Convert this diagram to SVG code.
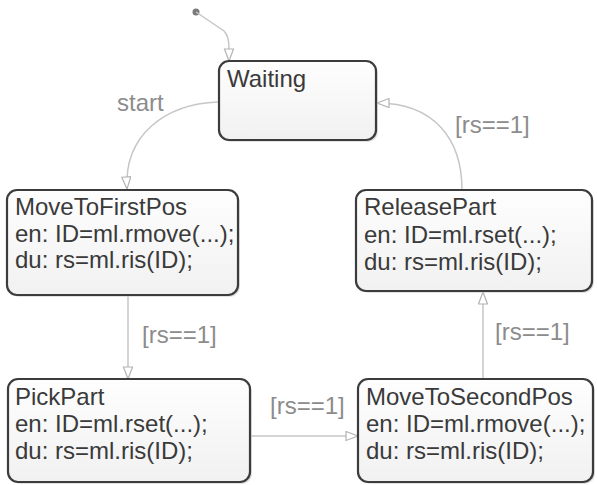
<svg xmlns="http://www.w3.org/2000/svg" width="597" height="485" viewBox="0 0 597 485">
<defs>
<linearGradient id="g" x1="0" y1="0" x2="0" y2="1">
<stop offset="0" stop-color="#fefefe"/>
<stop offset="1" stop-color="#f1f1f1"/>
</linearGradient>
<marker id="arr" markerUnits="userSpaceOnUse" markerWidth="16" markerHeight="12" refX="13" refY="5" orient="auto" viewBox="0 0 16 12">
<path d="M1,0.5 L13,5 L1,9.5 Z" fill="#ffffff" stroke="#b4b4b4" stroke-width="1.2"/>
</marker>
</defs>
<style>
.box{fill:url(#g);stroke:#3c3c3c;stroke-width:2.2}
.sh{fill:#cfcfcf;opacity:0.6}
.t{font-family:"Liberation Sans",Arial,sans-serif;font-size:24px;fill:#3a3a3a}
.lbl{font-family:"Liberation Sans",Arial,sans-serif;font-size:24px;fill:#8c8c8c}
.c{fill:none;stroke:#c6c6c6;stroke-width:1.5}
</style>
<rect width="597" height="485" fill="#ffffff"/>
<g id="connectors">
<circle cx="196" cy="12" r="3.5" fill="#7a7a7a"/>
<path class="c" d="M196,12 L224,31 C228,35 229,40 229,48 L229,61" marker-end="url(#arr)"/>
<path class="c" d="M218,102 C165,104 124,135 127,189" marker-end="url(#arr)"/>
<path class="c" d="M462,190 C462,140 435,103 377,103" marker-end="url(#arr)"/>
<path class="c" d="M128,296 L128,379" marker-end="url(#arr)"/>
<path class="c" d="M251,436 L358,436" marker-end="url(#arr)"/>
<path class="c" d="M483,379 L483,292" marker-end="url(#arr)"/>
<text class="lbl" x="117" y="111">start</text>
<text class="lbl" x="455" y="133">[rs==1]</text>
<text class="lbl" x="142" y="343">[rs==1]</text>
<text class="lbl" x="270" y="414">[rs==1]</text>
<text class="lbl" x="495" y="340">[rs==1]</text>
</g>
<g id="Waiting">
<rect class="sh" x="221" y="63" width="157" height="79" rx="10"/>
<rect class="box" x="219" y="61" width="157" height="79" rx="10"/>
<text class="t" x="227" y="87">Waiting</text>
</g>
<g id="MoveToFirstPos">
<rect class="sh" x="9" y="192" width="231" height="105" rx="10"/>
<rect class="box" x="7" y="190" width="231" height="105" rx="10"/>
<text class="t" x="15" y="215">MoveToFirstPos</text>
<text class="t" x="15" y="242">en: ID=ml.rmove(...);</text>
<text class="t" x="15" y="268">du: rs=ml.ris(ID);</text>
</g>
<g id="ReleasePart">
<rect class="sh" x="358" y="192" width="236" height="101" rx="10"/>
<rect class="box" x="356" y="190" width="236" height="101" rx="10"/>
<text class="t" x="364" y="215">ReleasePart</text>
<text class="t" x="364" y="243">en: ID=ml.rset(...);</text>
<text class="t" x="364" y="270">du: rs=ml.ris(ID);</text>
</g>
<g id="PickPart">
<rect class="sh" x="10" y="381" width="242" height="103" rx="10"/>
<rect class="box" x="8" y="379" width="242" height="103" rx="10"/>
<text class="t" x="15" y="405">PickPart</text>
<text class="t" x="15" y="432">en: ID=ml.rset(...);</text>
<text class="t" x="15" y="459">du: rs=ml.ris(ID);</text>
</g>
<g id="MoveToSecondPos">
<rect class="sh" x="360" y="381" width="235" height="103" rx="10"/>
<rect class="box" x="358" y="379" width="235" height="103" rx="10"/>
<text class="t" x="366" y="405">MoveToSecondPos</text>
<text class="t" x="366" y="432">en: ID=ml.rmove(...);</text>
<text class="t" x="366" y="459">du: rs=ml.ris(ID);</text>
</g>
</svg>
